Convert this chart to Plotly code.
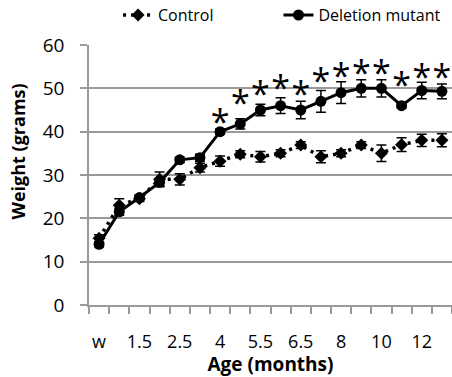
import plotly.graph_objects as go

ages = ["w", "1", "1.5", "2", "2.5", "3", "4", "5", "5.5", "6", "6.5", "7", "8", "9", "10", "11", "12", "13"]
label_ages = ["w", "1.5", "2.5", "4", "5.5", "6.5", "8", "10", "12"]

control_mean = [15.4, 23.0, 24.5, 29.0, 29.0, 31.7, 33.2, 34.8, 34.2, 35.0, 36.9, 34.2, 35.0, 36.9, 35.0, 37.0, 38.0, 38.0]
control_err = [0.8, 1.5, 0.6, 1.7, 1.3, 1.0, 1.2, 0.8, 1.2, 0.8, 0.8, 1.4, 0.8, 0.8, 1.9, 1.6, 1.4, 1.5]

mutant_mean = [14.0, 21.5, 24.8, 28.3, 33.5, 34.0, 40.0, 41.8, 45.0, 46.0, 45.0, 47.0, 49.0, 50.0, 50.0, 46.0, 49.5, 49.3]
mutant_err = [0.6, 0.8, 0.6, 0.8, 0.6, 0.8, 0.6, 1.2, 1.3, 1.8, 2.0, 2.5, 2.5, 2.0, 2.0, 0.5, 1.9, 1.7]

sig_ages = ["4", "5", "5.5", "6", "6.5", "7", "8", "9", "10", "11", "12", "13"]
sig_y = [41.5, 45.9, 47.9, 49.2, 47.9, 50.8, 52.0, 52.8, 52.8, 50.0, 51.8, 51.8]

idx = {a: i for i, a in enumerate(ages)}
x = [idx[a] for a in ages]
FONT = "Open Sans"
GRID = "#9a9a9a"

fig = go.Figure()
fig.add_trace(go.Scatter(
    x=x, y=control_mean, name="Control", mode="lines+markers", legend="legend",
    line=dict(color="black", width=3.5, dash="3px,5px"),
    marker=dict(symbol="diamond", size=10, color="black"),
    error_y=dict(type="data", array=control_err, visible=True, color="black", thickness=1.5, width=5),
))
fig.add_trace(go.Scatter(
    x=x, y=mutant_mean, name="Deletion mutant", mode="lines+markers", legend="legend2",
    line=dict(color="black", width=3),
    marker=dict(symbol="circle", size=11, color="black"),
    error_y=dict(type="data", array=mutant_err, visible=True, color="black", thickness=1.5, width=5),
))
fig.add_trace(go.Scatter(
    x=[idx[a] for a in sig_ages], y=sig_y, mode="text", text=["*"] * len(sig_ages),
    textposition="middle center", textfont=dict(family=FONT, size=34, color="black"),
    showlegend=False, hoverinfo="skip", cliponaxis=False,
))

fig.add_annotation(
    text="<b>Weight (grams)</b>", textangle=-90, xref="paper", yref="paper",
    x=-0.196, y=0.59, xanchor="center", yanchor="middle", showarrow=False,
    font=dict(family=FONT, size=18, color="black"),
)

legend_common = dict(orientation="h", xanchor="left", y=1.115, yanchor="middle",
                     font=dict(family=FONT, size=16, color="black"), bgcolor="rgba(0,0,0,0)")

fig.update_layout(
    width=452, height=377,
    margin=dict(l=89, r=0, t=45, b=72, autoexpand=False),
    paper_bgcolor="white", plot_bgcolor="white",
    font=dict(family=FONT, color="black"),
    legend=dict(x=0.08, **legend_common),
    legend2=dict(x=0.522, **legend_common),
    xaxis=dict(
        range=[-0.5, 17.5], tickmode="array",
        tickvals=[idx[a] for a in label_ages], ticktext=label_ages,
        ticks="", showgrid=False, zeroline=False,
        showline=True, linecolor=GRID, linewidth=1.5,
        tickfont=dict(family=FONT, size=18, color="black"),
        ticklabelstandoff=20,
        minor=dict(tick0=-0.5, dtick=1, ticks="outside", ticklen=7, tickcolor=GRID, tickwidth=1.5, showgrid=False),
        title=dict(text="<b>Age (months)</b>", font=dict(family=FONT, size=19, color="black"), standoff=2),
    ),
    yaxis=dict(
        range=[0, 60], tickmode="linear", tick0=0, dtick=10,
        showgrid=True, gridcolor=GRID, gridwidth=1.5, zeroline=False,
        showline=True, linecolor=GRID, linewidth=1.5,
        ticks="outside", ticklen=7, tickcolor=GRID, tickwidth=1.5,
        tickfont=dict(family=FONT, size=19, color="black"),
        ticklabelstandoff=12,
    ),
)

fig.write_html("out.html", config={"displayModeBar": False},
               post_script="document.body.style.margin='0';document.body.style.overflow='hidden';")
